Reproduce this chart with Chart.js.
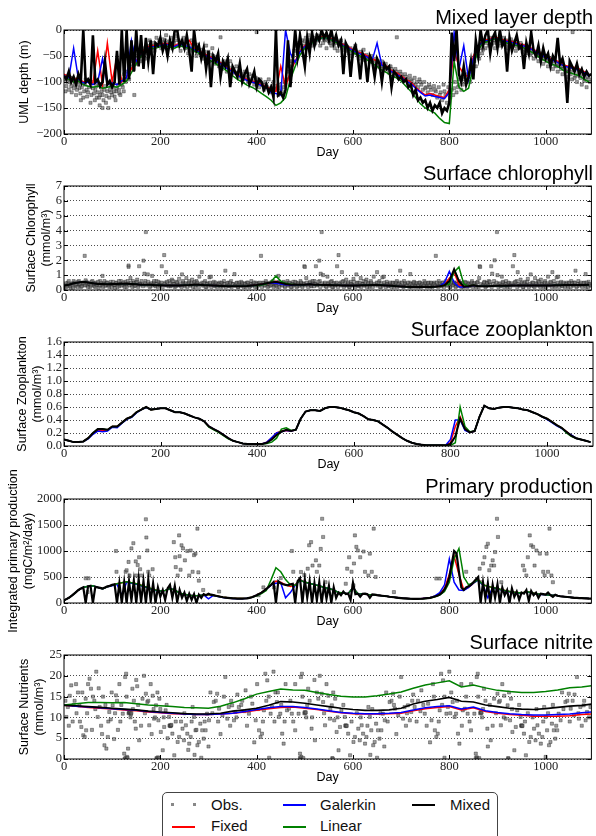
<!DOCTYPE html>
<html>
<head>
<meta charset="utf-8">
<script src="https://cdn.jsdelivr.net/npm/chart.js@4"></script>
<style>
  body { margin: 0; background: #fff; width: 596px; height: 836px; overflow: hidden; position: relative;
         font-family: "Liberation Sans", Arial, sans-serif; }
  canvas { position: absolute; left: 0; }
  #legend { position: absolute; left: 162px; top: 792px; width: 334px; height: 70px;
            border: 1px solid #444; border-radius: 5px; background: #fff; }
  #legend .ln { position: absolute; height: 1.5px; width: 23px; }
  #legend .mk { position: absolute; width: 3px; height: 3px; background: #888; }
  #legend .tx { position: absolute; font-size: 15px; line-height: 20px; color: #111; }
</style>
</head>
<body>
<canvas id="p0" width="596" height="170" style="top:0px"></canvas>
<canvas id="p1" width="596" height="170" style="top:156px"></canvas>
<canvas id="p2" width="596" height="170" style="top:312px"></canvas>
<canvas id="p3" width="596" height="170" style="top:469px"></canvas>
<canvas id="p4" width="596" height="170" style="top:625px"></canvas>

<div id="legend">
  <span class="mk" style="left:8px;top:10px"></span><span class="mk" style="left:30px;top:10px"></span>
  <span class="tx" style="left:48px;top:2px">Obs.</span>
  <span class="ln" style="left:9px;top:33px;background:#ff0000"></span>
  <span class="tx" style="left:48px;top:23px">Fixed</span>
  <span class="ln" style="left:120px;top:11px;background:#0000ff"></span>
  <span class="tx" style="left:157px;top:2px">Galerkin</span>
  <span class="ln" style="left:120px;top:33px;background:#008000"></span>
  <span class="tx" style="left:157px;top:23px">Linear</span>
  <span class="ln" style="left:249px;top:11px;background:#000"></span>
  <span class="tx" style="left:287px;top:2px">Mixed</span>
</div>

<script>
// ---- time axes ----
const day10 = [0,10,20,30,40,50,60,70,80,90,100,110,120,130,140,150,160,170,180,190,
  200,210,220,230,240,250,260,270,280,290,300,310,320,330,340,350,360,370,380,390,
  400,410,420,430,440,450,460,470,480,490,500,510,520,530,540,550,560,570,580,590,
  600,610,620,630,640,650,660,670,680,690,700,710,720,730,740,750,760,770,780,790,
  800,810,820,830,840,850,860,870,880,890,900,910,920,930,940,950,960,970,980,990,
  1000,1010,1020,1030,1040,1050,1060,1070,1080,1090];
const day5 = [0,5,10,15,20,25,30,35,40,45,50,55,60,65,70,75,80,85,90,95,
  100,105,110,115,120,125,130,135,140,145,150,155,160,165,170,175,180,185,190,195,
  200,205,210,215,220,225,230,235,240,245,250,255,260,265,270,275,280,285,290,295,
  300,305,310,315,320,325,330,335,340,345,350,355,360,365,370,375,380,385,390,395,
  400,405,410,415,420,425,430,435,440,445,450,455,460,465,470,475,480,485,490,495,
  500,505,510,515,520,525,530,535,540,545,550,555,560,565,570,575,580,585,590,595,
  600,605,610,615,620,625,630,635,640,645,650,655,660,665,670,675,680,685,690,695,
  700,705,710,715,720,725,730,735,740,745,750,755,760,765,770,775,780,785,790,795,
  800,805,810,815,820,825,830,835,840,845,850,855,860,865,870,875,880,885,890,895,
  900,905,910,915,920,925,930,935,940,945,950,955,960,965,970,975,980,985,990,995,
  1000,1005,1010,1015,1020,1025,1030,1035,1040,1045,1050,1055,1060,1065,1070,1075,1080,1085,1090,1095];
const dayNut = [0,25,50,75,100,125,150,175,200,225,250,275,300,325,350,375,400,425,450,475,
  500,525,550,575,600,625,650,675,700,725,750,775,800,825,850,875,900,925,950,975,
  1000,1025,1050,1075,1095];

// ---- mixed layer depth (m) ----
const mldFixed = [-85,-90,-95,-92,-100,-98,-102,-40,-105,-25,
  -100,-50,-100,-90,-75,-60,-45,-35,-30,-30,
  -28,-25,-28,-30,-25,-28,-20,-35,-40,-45,
  -50,-55,-60,-65,-72,-78,-85,-90,-95,-98,
  -100,-105,-108,-115,-118,-70,-110,-80,-60,-40,
  -30,-25,-20,-15,-12,-15,-18,-22,-28,-32,
  -38,-42,-45,-50,-55,-60,-65,-70,-78,-82,
  -88,-95,-100,-110,-118,-125,-122,-125,-128,-130,
  -115,-40,-70,-85,-90,-50,-30,-20,-18,-15,
  -15,-18,-20,-22,-25,-28,-30,-35,-40,-45,
  -50,-55,-58,-62,-68,-70,-72,-75,-80,-85];
const mldGalerkin = [-88,-92,-35,-95,-102,-100,-105,-100,-55,-105,
  -102,-105,-98,-92,-20,-62,-48,-38,-32,-32,
  -30,-27,-30,-32,-27,-30,-32,-38,-42,-48,
  -52,-57,-62,-68,-75,-80,-87,-92,-97,-100,
  -103,-107,-110,-120,-122,-125,0,-45,-62,-42,
  -32,-27,-22,-17,-14,-17,-20,-24,-30,-34,
  -40,-44,-48,-52,-58,-25,-68,-73,-80,-85,
  -90,-98,-103,-112,-120,-127,-125,-128,-130,-132,
  -120,-5,-75,-30,-95,-55,-32,-22,-20,-17,
  -17,-20,-22,-24,-27,-30,-32,-37,-42,-48,
  -52,-57,-60,-65,-70,-72,-75,-78,-82,-88];
const mldLinear = [-90,-95,-100,-98,-105,-108,-110,-108,-112,-110,
  -108,-110,-105,-98,-82,-65,-50,-40,-35,-35,
  -32,-30,-33,-35,-30,-33,-35,-40,-45,-50,
  -57,-62,-68,-73,-80,-88,-95,-100,-106,-110,
  -115,-122,-128,-135,-145,-140,-130,-95,-70,-48,
  -35,-28,-22,-17,-14,-17,-22,-26,-32,-37,
  -43,-48,-52,-58,-64,-70,-77,-82,-88,-92,
  -98,-108,-118,-130,-142,-150,-155,-160,-170,-178,
  -180,-60,-110,-118,-112,-70,-38,-25,-22,-18,
  -18,-22,-25,-27,-30,-33,-36,-42,-48,-55,
  -60,-65,-68,-73,-80,-82,-85,-88,-95,-100];
const mldMixed = [-88,-95,-80,-100,-90,-105,-85,-98,0,-100,-95,-105,-10,-100,-95,-108,-100,-60,-105,-98,
  -110,-100,-40,-105,0,-100,0,-95,-20,-80,0,-70,-10,-75,-15,-60,-20,-85,-25,-30,
  -15,-40,-25,-50,-20,-35,0,0,-30,-20,-35,-10,-40,-80,0,-40,-30,-55,-35,-75,
  -40,-110,-50,-60,-45,-90,-60,-70,-55,-110,-70,-80,-90,-65,-100,-85,-75,-105,-95,-80,
  -110,-95,-100,-115,-105,-120,-110,-130,0,-125,-120,-130,-115,-20,-110,-60,0,-50,-10,-40,
  -70,-15,-45,-5,-30,-10,-20,0,-15,-5,-20,0,-25,-10,-30,-20,-85,-25,-35,-90,
  -40,-30,-50,-95,-45,-55,-100,-50,-60,-90,-55,-65,-100,-65,-75,-70,-110,-80,-85,-95,
  -90,-100,-95,-110,-105,-125,-115,-135,-130,-140,-135,-150,-140,-155,-145,-150,-140,-160,-150,-155,
  -140,-5,-60,0,-85,-100,-70,-105,-90,-60,-95,-20,-50,0,-30,-10,0,-45,-15,-5,
  -35,0,-30,-20,-80,-15,-40,-25,-10,-35,-30,-75,-25,-45,-5,-40,-50,-30,-60,-35,
  -55,-45,-70,-50,-60,-15,-65,-55,-75,-140,-60,-70,-80,-65,-85,-75,-90,-80,-88,-85];
const mldObs = [[2,-95],[5,-108],[8,-88],[10,-115],[13,-100],[16,-120],[18,-92],[22,-105],[25,-125],[28,-98],
  [32,-112],[35,-135],[38,-102],[42,-118],[45,-95],[48,-128],[52,-110],[55,-140],[58,-100],[62,-122],
  [65,-115],[68,-130],[72,-105],[74,-145],[75,-125],[78,-118],[80,-150],[82,-135],[85,-108],[88,-127],
  [92,-150],[95,-115],[98,-120],[102,-110],[105,-128],[108,-118],[112,-105],[115,-122],[118,-95],[122,-110],
  [125,-85],[128,-100],[132,-80],[135,-95],[138,-70],[142,-60],[145,-75],[146,-125],[148,-50],[152,-65],
  [155,-45],[158,-60],[162,-35],[165,-40],[168,-55],[172,-30],[175,-45],[178,-20],[182,-35],[185,-25],
  [188,-40],[192,-15],[195,-30],[198,-20],[202,-35],[205,-18],[208,-25],[212,-10],[215,-30],[218,-22],
  [222,-15],[225,-35],[228,-25],[232,-12],[235,-30],[238,-20],[242,-40],[245,-28],[248,-15],[252,-35],
  [255,-25],[258,-45],[262,-30],[265,-20],[268,-40],[272,-35],[275,-50],[278,-28],[282,-45],[285,-38],
  [288,-55],[292,-42],[295,-30],[298,-50],[302,-60],[305,-48],[308,-35],[312,-58],[315,-65],[318,-52],
  [322,-70],[325,-14],[328,-75],[332,-60],[335,-68],[338,-80],[342,-72],[345,-60],[348,-85],[352,-75],
  [355,-82],[358,-70],[362,-90],[365,-78],[368,-85],[372,-95],[375,-80],[378,-90],[382,-100],[385,-85],
  [388,-95],[392,-88],[395,-105],[398,-92],[400,-4],[402,-100],[405,-110],[408,-95],[412,-105],[415,-115],
  [418,-100],[422,-110],[425,-95],[428,-120],[432,-108],[435,-100],[438,-115],[442,-112],[445,-125],[448,-105],
  [452,-118],[455,-110],[458,-100],[462,-95],[465,-80],[468,-70],[472,-60],[475,-50],[478,-40],[482,-30],
  [485,-45],[488,-25],[492,-35],[495,-20],[498,-30],[502,-15],[505,-25],[508,-10],[512,-20],[515,-30],
  [518,-15],[522,-25],[525,-10],[528,-20],[532,-30],[535,-15],[538,-25],[542,-20],[545,-35],[548,-15],
  [552,-25],[555,-30],[558,-20],[562,-35],[565,-25],[568,-40],[572,-30],[575,-20],[578,-35],[582,-28],
  [585,-40],[588,-32],[592,-45],[595,-35],[598,-50],[602,-40],[605,-30],[608,-45],[612,-55],[615,-42],
  [618,-50],[622,-38],[625,-58],[628,-48],[632,-55],[635,-62],[638,-50],[642,-60],[645,-68],[648,-55],
  [652,-65],[655,-72],[658,-60],[662,-70],[665,-78],[668,-65],[672,-75],[675,-82],[678,-70],[682,-80],
  [685,-88],[688,-75],[691,-14],[692,-85],[695,-92],[698,-80],[702,-90],[705,-98],[708,-85],[712,-95],
  [715,-100],[718,-88],[722,-98],[725,-105],[728,-92],[732,-100],[735,-110],[738,-95],[742,-105],[745,-115],
  [748,-100],[752,-110],[755,-120],[758,-105],[762,-115],[765,-125],[768,-108],[772,-118],[775,-130],[778,-110],
  [782,-120],[785,-135],[788,-105],[792,-125],[795,-140],[798,-110],[802,-130],[805,-115],[808,-125],[812,-100],
  [815,-120],[818,-110],[822,-95],[825,-115],[828,-105],[832,-90],[835,-100],[838,-85],[842,-95],[843,-100],
  [845,-75],[848,-85],[852,-60],[855,-70],[858,-45],[862,-55],[865,-35],[868,-45],[872,-25],[875,-35],
  [878,-20],[882,-30],[885,-15],[888,-28],[892,-20],[895,-35],[898,-25],[902,-18],[905,-30],[908,-22],
  [912,-15],[915,-28],[918,-20],[922,-35],[925,-25],[928,-18],[932,-30],[935,-22],[938,-40],[942,-28],
  [945,-35],[948,-25],[952,-42],[955,-30],[958,-38],[962,-45],[965,-32],[968,-48],[972,-38],[975,-55],
  [978,-42],[982,-50],[985,-60],[988,-45],[992,-55],[995,-65],[998,-50],[1002,-60],[1005,-70],[1008,-55],
  [1012,-65],[1015,-75],[1018,-60],[1022,-70],[1025,-80],[1028,-65],[1032,-75],[1035,-85],[1038,-70],[1042,-80],
  [1045,-90],[1048,-75],[1052,-85],[1055,-95],[1056,-4],[1058,-78],[1062,-88],[1065,-100],[1068,-82],[1072,-92],
  [1075,-105],[1078,-85],[1082,-95],[1085,-110],[1088,-90],[1092,-100],
  [3,-118],[7,-100],[12,-92],[15,-108],[20,-112],[24,-95],[27,-115],[30,-105],[34,-122],[37,-110],
  [40,-130],[44,-105],[47,-115],[50,-120],[54,-100],[57,-125],[60,-112],[64,-135],[67,-108],[70,-120],
  [73,-130],[77,-110],[80,-125],[84,-115],[87,-140],[90,-118],[94,-130],[97,-108],[100,-125],[104,-118],
  [107,-135],[110,-112],[114,-115],[117,-125],[120,-105],[124,-118],[127,-95],[150,-55],[160,-50],[170,-40],
  [180,-30],[190,-28],[200,-25],[210,-20],[220,-28],[230,-20],[240,-30],[250,-22],[260,-38],[270,-28],
  [280,-40],[290,-48],[300,-42],[310,-50],[320,-62],[330,-68],[340,-65],[350,-78],[360,-82],[370,-88],
  [380,-92],[390,-98],[400,-95],[410,-102],[420,-105],[430,-112],[440,-108],[450,-112],[460,-105],[500,-22],
  [510,-18],[520,-28],[530,-12],[540,-18],[550,-22],[560,-28],[570,-22],[580,-38],[590,-38],[600,-45],
  [610,-48],[620,-55],[630,-52],[640,-58],[650,-62],[660,-65],[670,-72],[680,-75],[690,-80],[700,-85],
  [710,-90],[720,-95],[730,-105],[740,-100],[750,-112],[760,-110],[770,-115],[780,-125],[790,-118],[800,-120],
  [810,-112],[820,-105],[830,-95],[840,-90],[850,-70],[860,-50],[870,-38],[880,-25],[890,-25],[900,-28],
  [910,-25],[920,-28],[930,-25],[940,-32],[950,-35],[960,-40],[970,-45],[980,-48],[990,-52],[1000,-55],
  [1010,-62],[1020,-68],[1030,-70],[1040,-75],[1050,-80],[1060,-92],[1070,-88],[1080,-98],[1090,-95]];

// ---- surface chlorophyll (mmol/m3) ----
const chlMixed = [.30,.35,.45,.50,.55,.50,.45,.40,.40,.38,
  .40,.40,.42,.42,.40,.38,.35,.35,.35,.32,
  .32,.30,.30,.30,.30,.32,.33,.35,.35,.33,
  .32,.30,.28,.27,.26,.25,.25,.26,.27,.30,
  .33,.38,.45,.50,.55,.48,.40,.36,.35,.35,
  .36,.38,.36,.35,.34,.33,.32,.32,.31,.30,
  .30,.31,.32,.32,.33,.33,.32,.30,.28,.26,
  .24,.22,.21,.20,.20,.20,.21,.22,.25,.32,
  .60,1.40,.60,.22,.25,.32,.25,.25,.26,.27,
  .28,.28,.29,.30,.30,.30,.31,.31,.30,.30,
  .30,.31,.32,.32,.33,.33,.33,.34,.34,.35];
const chlFixed = [.30,.35,.45,.50,.55,.50,.45,.40,.40,.38,
  .40,.40,.42,.42,.40,.38,.35,.35,.35,.32,
  .32,.30,.30,.30,.30,.32,.33,.35,.35,.33,
  .32,.30,.28,.27,.26,.25,.25,.26,.27,.30,
  .33,.37,.40,.48,.58,.45,.38,.35,.34,.34,
  .36,.38,.36,.35,.34,.33,.32,.32,.31,.30,
  .30,.31,.32,.32,.33,.33,.32,.30,.28,.26,
  .24,.22,.21,.20,.20,.20,.21,.22,.25,.32,
  .80,1.20,.35,.22,.25,.30,.25,.25,.26,.27,
  .28,.28,.29,.30,.30,.30,.31,.31,.30,.30,
  .30,.31,.32,.32,.33,.33,.33,.34,.34,.35];
const chlGalerkin = [.30,.35,.45,.50,.55,.50,.45,.40,.40,.38,
  .40,.40,.42,.42,.40,.38,.35,.35,.35,.32,
  .32,.30,.30,.30,.30,.32,.33,.35,.35,.33,
  .32,.30,.28,.27,.26,.25,.25,.26,.27,.30,
  .32,.36,.42,.48,.45,.40,.36,.34,.34,.34,
  .36,.38,.36,.35,.34,.33,.32,.32,.31,.30,
  .30,.31,.32,.32,.33,.33,.32,.30,.28,.26,
  .24,.22,.21,.20,.20,.20,.21,.22,.26,.50,
  1.25,.50,.20,.20,.24,.30,.25,.25,.26,.27,
  .28,.28,.29,.30,.30,.30,.31,.31,.30,.30,
  .30,.31,.32,.32,.33,.33,.33,.34,.34,.35];
const chlLinear = [.30,.35,.45,.50,.55,.50,.45,.40,.40,.38,
  .40,.40,.42,.42,.40,.38,.35,.35,.35,.32,
  .32,.30,.30,.30,.30,.32,.33,.35,.35,.33,
  .32,.30,.28,.27,.26,.25,.25,.26,.27,.30,
  .30,.33,.40,.55,.95,.60,.45,.38,.36,.35,
  .36,.38,.36,.35,.34,.33,.32,.32,.31,.30,
  .30,.31,.32,.32,.33,.33,.32,.30,.28,.26,
  .24,.22,.21,.20,.20,.20,.21,.22,.25,.32,
  .40,1.20,1.55,.40,.25,.32,.25,.25,.26,.27,
  .28,.28,.29,.30,.30,.30,.31,.31,.30,.30,
  .30,.31,.32,.32,.33,.33,.33,.34,.34,.35];
const chlObs = [[2,0.35],[5,0.2],[8,0.5],[11,0.3],[14,0.15],[17,0.45],[20,0.6],[23,0.25],[26,0.4],[29,0.55],
  [32,0.3],[35,0.2],[38,0.5],[43,2.3],[42,0.35],[45,0.65],[48,0.3],[51,0.45],[54,0.2],[57,0.55],
  [60,0.35],[63,0.25],[66,0.5],[69,0.4],[72,0.15],[75,0.6],[78,0.3],[80,0.95],[82,0.45],[85,0.25],
  [88,0.5],[91,0.35],[94,0.2],[97,0.55],[100,0.4],[103,0.3],[106,0.15],[109,0.5],[112,0.35],[115,0.25],
  [118,0.6],[121,0.4],[124,0.3],[127,0.55],[130,0.2],[133,0.45],[134,1.56],[134,1.65],[138,0.8],[140,0.35],
  [143,0.6],[146,0.25],[149,0.5],[152,0.7],[155,0.3],[156,1.6],[158,0.45],[163,0.35],[165,1.98],[167,1.1],
  [169,0.6],[170,3.9],[174,1.05],[177,0.4],[180,0.25],[183,0.95],[186,0.5],[189,0.3],[192,0.6],[195,0.2],
  [198,0.45],[201,0.35],[203,1.6],[208,2.35],[210,0.5],[212,1.2],[213,0.3],[218,0.6],[221,0.25],[224,0.7],
  [227,0.4],[230,0.2],[233,0.55],[236,0.35],[239,0.75],[242,0.3],[245,1.05],[248,0.5],[251,0.25],[254,0.8],
  [257,0.4],[260,0.6],[263,0.3],[266,0.7],[269,0.45],[272,0.2],[275,0.6],[278,0.35],[281,0.9],[286,1.2],
  [287,0.5],[290,0.3],[293,0.6],[296,0.2],[299,0.45],[302,0.85],[305,0.9],[308,0.35],[311,0.55],[314,0.25],
  [317,0.4],[320,0.3],[323,0.5],[326,0.2],[329,0.45],[332,0.6],[335,1.3],[338,0.3],[341,0.5],[344,0.25],
  [347,0.6],[350,0.4],[354,1.07],[356,0.3],[359,0.5],[362,0.2],[365,0.4],[368,0.55],[371,0.3],[374,0.45],
  [377,0.2],[380,0.5],[383,0.35],[386,0.25],[389,0.6],[392,0.4],[395,0.3],[398,0.5],[401,0.2],[404,0.45],
  [407,0.35],[409,2.3],[413,0.5],[416,0.3],[419,0.6],[422,0.4],[425,0.25],[428,0.5],[431,0.35],[434,0.6],
  [437,0.3],[440,0.45],[443,0.2],[445,0.95],[446,0.55],[452,0.35],[455,0.5],[458,0.25],[461,0.4],[464,0.6],
  [467,0.3],[470,0.45],[473,0.2],[476,0.55],[479,0.35],[482,0.5],[485,0.25],[488,0.4],[491,0.6],[494,0.3],
  [497,0.45],[499,1.6],[500,1.55],[503,0.8],[508,0.35],[511,0.55],[514,0.25],[517,0.5],[520,0.6],[523,1.6],
  [526,0.35],[530,1.98],[533,1.1],[531,0.6],[535,3.9],[538,1.0],[541,0.4],[544,0.25],[547,0.9],[550,0.5],
  [553,0.3],[556,0.6],[559,0.2],[562,0.45],[565,0.35],[567,1.6],[570,2.35],[574,0.5],[577,1.2],[580,0.6],
  [583,0.3],[586,0.7],[589,0.4],[592,0.2],[595,0.55],[598,0.35],[601,0.75],[604,0.3],[607,1.05],[610,0.5],
  [613,0.25],[616,0.8],[619,0.4],[622,0.6],[625,0.3],[628,0.7],[631,0.45],[634,0.2],[637,0.6],[640,0.35],
  [643,0.9],[650,1.2],[649,0.5],[652,0.3],[655,0.6],[658,0.2],[661,0.85],[664,0.9],[667,0.35],[670,0.55],
  [673,0.25],[676,0.4],[679,0.3],[682,0.5],[685,0.2],[688,0.45],[691,0.6],[694,0.3],[697,0.5],[698,1.3],
  [703,0.25],[706,0.6],[709,0.4],[712,0.3],[719,1.07],[718,0.5],[721,0.2],[724,0.4],[727,0.55],[730,0.3],
  [733,0.45],[736,0.2],[739,0.5],[742,0.35],[745,0.25],[748,0.6],[751,0.4],[754,0.3],[757,0.5],[760,0.2],
  [763,0.45],[766,0.35],[769,0.5],[772,2.3],[775,0.3],[778,0.6],[781,0.4],[784,0.25],[787,0.5],[790,0.35],
  [793,0.6],[796,0.3],[799,0.45],[802,0.2],[805,0.55],[808,0.35],[811,0.5],[814,0.25],[817,0.4],[820,0.6],
  [823,0.3],[826,0.45],[829,0.2],[832,0.55],[835,0.35],[838,0.5],[841,0.25],[844,0.4],[847,0.6],[850,0.3],
  [853,0.45],[856,0.2],[859,0.55],[862,0.8],[863,1.6],[864,1.55],[870,0.35],[873,0.55],[876,0.25],[879,0.5],
  [882,0.6],[887,1.6],[885,0.35],[894,2.0],[889,1.1],[893,0.6],[899,3.9],[900,1.0],[903,0.4],[906,0.25],
  [909,0.9],[912,0.5],[915,0.3],[918,0.6],[921,0.2],[924,0.45],[927,0.35],[932,1.6],[935,2.35],[936,0.5],
  [942,1.2],[940,0.6],[945,0.3],[948,0.7],[951,0.4],[954,0.2],[957,0.55],[960,0.35],[963,0.75],[966,0.3],
  [969,1.05],[972,0.5],[975,0.25],[978,0.8],[981,0.4],[984,0.6],[987,0.3],[990,0.7],[993,0.45],[996,0.2],
  [999,0.6],[1002,0.35],[1005,0.9],[1014,1.2],[1011,0.5],[1016,0.3],[1017,0.6],[1020,0.2],[1023,0.85],[1026,0.9],
  [1029,0.35],[1032,0.55],[1035,0.25],[1038,0.4],[1041,0.3],[1044,0.5],[1047,0.2],[1050,0.45],[1053,0.6],[1056,0.3],
  [1059,0.5],[1062,1.3],[1065,0.25],[1068,0.6],[1071,0.4],[1074,0.3],[1083,1.07],[1080,0.5],[1084,0.2],[1086,0.4],
  [1089,0.55],[1092,0.3],
  [1,0.1],[4,0.45],[7,0.3],[10,0.6],[13,0.25],[16,0.4],[19,0.15],[22,0.5],[25,0.35],[28,0.2],
  [31,0.6],[34,0.4],[37,0.25],[40,0.45],[44,0.3],[47,0.55],[50,0.2],[53,0.4],[56,0.3],[59,0.6],
  [62,0.45],[65,0.2],[68,0.35],[71,0.55],[74,0.3],[77,0.45],[81,0.2],[84,0.6],[87,0.35],[90,0.5],
  [93,0.3],[96,0.4],[99,0.2],[102,0.55],[105,0.35],[108,0.45],[111,0.2],[114,0.6],[117,0.4],[120,0.3],
  [123,0.5],[126,0.2],[129,0.4],[132,0.6],[136,0.3],[139,0.5],[142,0.2],[145,0.45],[148,0.3],[151,0.55],
  [154,0.2],[157,0.4],[161,0.6],[164,0.25],[168,0.45],[171,0.3],[175,0.55],[178,0.2],[181,0.45],[184,0.35],
  [187,0.6],[190,0.25],[193,0.4],[196,0.55],[199,0.3],[202,0.5],[205,0.2],[209,0.4],[214,0.55],[217,0.25],
  [220,0.45],[223,0.3],[226,0.6],[229,0.4],[232,0.25],[235,0.5],[238,0.3],[241,0.45],[244,0.2],[247,0.6],
  [250,0.35],[253,0.45],[256,0.2],[259,0.5],[262,0.3],[265,0.45],[268,0.2],[271,0.55],[274,0.35],[277,0.5],
  [280,0.2],[283,0.4],[288,0.3],[291,0.5],[294,0.2],[297,0.4],[300,0.3],[303,0.5],[306,0.2],[309,0.45],
  [312,0.3],[315,0.5],[318,0.2],[321,0.4],[324,0.3],[327,0.5],[330,0.25],[333,0.4],[336,0.2],[339,0.45],
  [342,0.3],[345,0.5],[348,0.2],[351,0.4],[355,0.3],[358,0.45],[361,0.2],[364,0.5],[367,0.3],[370,0.45],
  [373,0.2],[376,0.4],[379,0.3],[382,0.5],[385,0.2],[388,0.4],[391,0.3],[394,0.5],[397,0.2],[400,0.4],
  [403,0.3],[406,0.5],[411,0.2],[414,0.45],[417,0.3],[420,0.5],[423,0.2],[426,0.4],[429,0.3],[432,0.55],
  [435,0.2],[438,0.45],[441,0.3],[444,0.5],[447,0.2],[450,0.4],[453,0.3],[456,0.55],[459,0.2],[462,0.45],
  [465,0.3],[468,0.5],[471,0.2],[474,0.4],[477,0.3],[480,0.55],[483,0.2],[486,0.45],[489,0.3],[492,0.5],
  [495,0.2],[498,0.4],[501,0.3],[504,0.5],[507,0.2],[510,0.45],[513,0.3],[516,0.6],[519,0.25],[522,0.4],
  [525,0.3],[528,0.55],[532,0.2],[536,0.45],[539,0.3],[542,0.5],[545,0.2],[548,0.4],[551,0.3],[554,0.55],
  [557,0.2],[560,0.45],[563,0.3],[566,0.5],[569,0.2],[572,0.4],[575,0.3],[578,0.55],[581,0.2],[584,0.45],
  [587,0.3],[590,0.5],[593,0.2],[596,0.4],[599,0.3],[602,0.55],[605,0.2],[608,0.45],[611,0.3],[614,0.5],
  [617,0.2],[620,0.4],[623,0.3],[626,0.55],[629,0.2],[632,0.45],[635,0.3],[638,0.5],[641,0.2],[644,0.4],
  [647,0.3],[653,0.5],[656,0.2],[659,0.45],[662,0.3],[665,0.5],[668,0.2],[671,0.4],[674,0.3],[677,0.5],
  [680,0.2],[683,0.45],[686,0.3],[689,0.5],[692,0.2],[695,0.4],[699,0.3],[702,0.5],[705,0.2],[708,0.45],
  [711,0.3],[714,0.5],[717,0.2],[720,0.4],[723,0.3],[726,0.5],[729,0.2],[732,0.45],[735,0.3],[738,0.5],
  [741,0.2],[744,0.4],[747,0.3],[750,0.5],[753,0.2],[756,0.45],[759,0.3],[762,0.5],[765,0.2],[768,0.4],
  [771,0.3],[774,0.5],[777,0.2],[780,0.45],[783,0.3],[786,0.5],[789,0.2],[792,0.4],[795,0.3],[798,0.5],
  [801,0.2],[804,0.45],[807,0.3],[810,0.5],[813,0.2],[816,0.4],[819,0.3],[822,0.5],[825,0.2],[828,0.45],
  [831,0.3],[834,0.5],[837,0.2],[840,0.4],[843,0.3],[846,0.5],[849,0.2],[852,0.45],[855,0.3],[858,0.5],
  [861,0.2],[866,0.4],[869,0.3],[872,0.5],[875,0.2],[878,0.45],[881,0.3],[884,0.55],[888,0.2],[891,0.4],
  [895,0.3],[898,0.5],[902,0.2],[905,0.45],[908,0.3],[911,0.55],[914,0.2],[917,0.4],[920,0.3],[923,0.5],
  [926,0.2],[929,0.45],[933,0.3],[937,0.55],[941,0.2],[944,0.4],[947,0.3],[950,0.5],[953,0.2],[956,0.45],
  [959,0.3],[962,0.55],[965,0.2],[968,0.4],[971,0.3],[974,0.5],[977,0.2],[980,0.45],[983,0.3],[986,0.55],
  [989,0.2],[992,0.4],[995,0.3],[998,0.5],[1001,0.2],[1004,0.45],[1007,0.3],[1010,0.55],[1013,0.2],[1019,0.4],
  [1022,0.3],[1025,0.5],[1028,0.2],[1031,0.45],[1034,0.3],[1037,0.5],[1040,0.2],[1043,0.4],[1046,0.3],[1049,0.5],
  [1052,0.2],[1055,0.45],[1058,0.3],[1061,0.5],[1064,0.2],[1067,0.4],[1070,0.3],[1073,0.5],[1076,0.2],[1079,0.45],
  [1082,0.3],[1085,0.5],[1088,0.2],[1091,0.4],[1094,0.3]];

// ---- surface zooplankton (mmol/m3) ----
const zooMixed = [.10,.08,.06,.06,.07,.12,.20,.26,.26,.25,
  .30,.30,.36,.42,.45,.52,.56,.60,.56,.57,
  .58,.58,.55,.52,.52,.50,.47,.44,.42,.38,
  .30,.26,.22,.17,.12,.08,.06,.04,.03,.03,
  .03,.03,.05,.10,.17,.22,.25,.23,.25,.42,
  .53,.55,.55,.54,.58,.60,.60,.59,.57,.55,
  .52,.50,.46,.41,.40,.38,.33,.28,.22,.17,
  .12,.08,.05,.03,.02,.01,.01,.01,.01,.01,
  .03,.15,.42,.26,.21,.23,.45,.62,.58,.57,
  .59,.60,.60,.59,.58,.56,.55,.52,.49,.45,
  .42,.37,.32,.28,.22,.16,.12,.10,.08,.06];
const zooFixed = [.10,.08,.06,.06,.07,.12,.19,.24,.24,.25,
  .30,.30,.36,.42,.45,.52,.56,.60,.56,.57,
  .58,.58,.55,.52,.52,.50,.47,.44,.42,.38,
  .30,.26,.22,.17,.12,.08,.06,.04,.03,.03,
  .03,.03,.06,.12,.20,.23,.24,.23,.25,.42,
  .53,.55,.55,.54,.58,.60,.60,.59,.57,.55,
  .52,.50,.46,.41,.40,.38,.33,.28,.22,.17,
  .12,.08,.05,.03,.02,.01,.01,.01,.01,.01,
  .05,.30,.45,.28,.21,.23,.45,.62,.58,.57,
  .59,.60,.60,.59,.58,.56,.55,.52,.49,.45,
  .42,.37,.32,.28,.22,.16,.12,.10,.08,.06];
const zooGalerkin = [.10,.08,.06,.06,.07,.11,.18,.23,.22,.23,
  .29,.28,.35,.41,.44,.51,.56,.59,.56,.57,
  .58,.58,.55,.52,.52,.50,.47,.44,.42,.38,
  .30,.26,.22,.17,.12,.08,.06,.04,.03,.03,
  .03,.03,.06,.13,.20,.22,.24,.23,.25,.42,
  .53,.55,.55,.54,.58,.60,.60,.59,.57,.55,
  .52,.50,.46,.41,.40,.38,.33,.28,.22,.17,
  .12,.08,.05,.03,.02,.01,.01,.01,.01,.01,
  .10,.40,.40,.24,.21,.23,.45,.62,.58,.57,
  .59,.60,.60,.59,.58,.56,.55,.52,.49,.45,
  .41,.36,.31,.27,.21,.17,.12,.10,.08,.06];
const zooLinear = [.10,.08,.06,.06,.07,.12,.20,.26,.26,.25,
  .30,.30,.36,.42,.45,.52,.56,.60,.56,.57,
  .58,.58,.55,.52,.52,.50,.47,.44,.42,.38,
  .29,.25,.21,.16,.11,.08,.06,.04,.03,.03,
  .03,.03,.04,.06,.12,.26,.28,.24,.25,.42,
  .53,.55,.55,.54,.58,.60,.60,.59,.57,.55,
  .52,.50,.46,.41,.40,.38,.33,.28,.22,.17,
  .12,.08,.05,.03,.02,.01,.01,.01,.01,.01,
  .01,.05,.60,.30,.22,.23,.45,.62,.58,.57,
  .59,.60,.60,.59,.58,.56,.55,.52,.49,.45,
  .42,.37,.32,.28,.20,.15,.12,.10,.08,.06];

// ---- integrated primary production (mgC/m2/day) ----
const ppFixed = [50,100,170,250,300,320,330,300,270,310,
  340,370,390,410,390,370,340,310,280,250,
  230,240,280,250,190,170,150,140,145,155,
  165,150,130,110,100,90,85,85,90,110,
  150,200,270,350,420,400,350,320,350,450,
  400,380,350,330,300,280,250,200,190,180,
  300,180,175,165,160,150,140,130,115,105,
  95,88,82,80,82,90,100,130,170,280,
  550,900,550,250,300,380,450,350,320,300,
  280,250,230,210,200,190,220,200,180,170,
  160,150,150,130,120,110,100,95,90,85];
const ppGalerkin = [50,100,170,250,300,320,330,300,270,310,
  330,360,150,400,380,360,330,300,270,240,
  230,240,280,250,190,170,150,140,145,155,
  80,145,125,108,98,88,84,84,89,108,
  148,195,265,345,380,390,100,200,340,440,
  400,380,350,330,300,280,250,200,190,180,
  300,180,175,165,160,150,140,130,115,105,
  95,88,82,80,82,90,100,135,200,350,
  850,400,250,240,300,380,440,340,100,290,
  270,245,225,205,195,185,215,195,175,165,
  160,150,150,130,120,110,100,95,90,85];
const ppLinear = [50,100,170,250,300,320,330,300,270,310,
  340,370,390,410,390,370,340,310,280,250,
  230,240,280,250,190,170,150,140,145,155,
  165,150,130,110,100,90,85,85,90,110,
  140,180,240,450,680,600,450,350,340,440,
  400,380,350,330,300,280,250,200,190,180,
  300,180,175,165,160,150,140,130,115,105,
  92,85,80,78,80,85,95,120,150,220,
  400,850,1050,500,350,390,450,350,320,300,
  280,250,230,210,200,190,220,200,180,170,
  160,150,150,130,120,110,100,95,90,85];
const ppMixed = [50,75,100,130,170,210,250,280,300,0,320,330,0,310,300,290,280,300,320,330,
  350,360,0,380,0,400,0,420,50,430,0,460,20,420,0,450,40,380,0,300,
  120,250,60,280,350,100,330,20,250,100,200,40,180,60,170,0,160,100,170,150,
  180,160,150,140,130,120,110,105,100,95,90,88,85,85,85,87,90,100,110,130,
  150,175,200,235,270,310,350,400,0,420,380,360,350,340,360,370,0,420,480,0,
  450,100,420,0,380,50,400,0,350,80,330,0,300,100,200,150,220,170,180,60,
  390,170,180,120,175,180,170,100,165,160,150,145,140,135,130,120,115,110,105,100,
  95,90,88,85,82,80,80,80,82,85,90,95,100,110,125,140,160,200,260,350,
  500,750,1000,950,600,300,250,300,320,350,400,450,500,0,400,80,380,0,350,100,
  360,0,300,150,250,0,280,120,220,60,200,180,250,40,230,150,200,100,180,170,
  160,200,150,120,160,140,130,125,120,115,110,105,100,98,95,92,90,88,85,85];
const ppObs = [[45,475],[51,475],[49,210],[108,1000],[109,600],[128,600],[130,630],[134,790],[136,530],[140,1050],
  [144,1150],[149,800],[150,530],[153,730],[156,880],[158,650],[160,530],[170,1610],[171,1260],[173,1010],
  [175,600],[177,530],[184,650],[228,1170],[231,880],[232,690],[236,530],[239,1300],[240,900],[242,640],
  [244,1110],[247,1050],[251,820],[256,1000],[260,530],[263,1010],[267,600],[270,920],[273,950],[277,1430],
  [279,590],[280,430],[289,250],[322,220],[404,150],[414,300],[436,300],[450,480],[473,1000],[476,600],
  [492,596],[499,535],[506,660],[509,1110],[513,1170],[516,720],[523,820],[525,600],[530,720],[533,1040],
  [536,1620],[538,1270],[543,400],[546,240],[585,370],[588,660],[592,880],[597,600],[601,340],[602,760],
  [604,1300],[607,1080],[610,1010],[615,880],[622,990],[625,600],[632,530],[635,950],[639,600],[643,1430],
  [647,500],[685,210],[773,470],[780,470],[835,600],[863,660],[866,400],[870,760],[873,880],[877,1080],
  [880,1140],[883,630],[887,720],[890,820],[893,720],[895,980],[899,1620],[901,1270],[908,400],[953,720],
  [956,630],[960,530],[963,880],[967,1300],[970,1110],[974,1080],[977,720],[981,1010],[988,950],[995,600],
  [998,530],[1002,950],[1005,600],[1008,1430],[1012,530],[1015,400],[1050,210]];

// ---- surface nutrients (mmol/m3) ----
const nutFixed = [12.9,12.7,12.4,12.2,12.0,11.8,11.6,11.3,11.1,10.9,10.8,10.7,10.7,10.8,11.0,11.3,11.7,12.1,12.4,12.5,
  12.2,11.9,11.5,11.1,10.9,10.8,10.8,10.9,11.0,11.6,12.1,12.4,12.6,11.8,12.3,11.4,11.0,10.7,10.5,10.3,
  10.3,10.3,10.4,10.7,10.8];
const nutGalerkin = [13.0,12.7,12.5,12.3,12.1,11.9,11.7,11.4,11.2,11.0,10.8,10.7,10.7,10.8,11.0,11.4,11.9,12.3,12.6,12.6,
  12.4,12.0,11.6,11.2,11.0,10.9,10.9,11.0,11.2,11.8,12.3,12.6,12.8,12.0,12.5,11.6,11.2,10.9,10.7,10.6,
  10.6,10.7,10.8,11.1,11.3];
const nutLinear = [13.0,13.3,13.6,13.6,13.5,13.6,13.3,13.0,12.8,12.6,12.4,12.3,12.2,12.7,13.5,14.5,15.6,16.2,16.8,16.6,
  16.5,16.0,15.5,15.1,14.9,14.9,15.2,15.6,16.1,17.0,17.8,18.3,18.8,17.3,17.8,17.1,16.5,16.2,16.0,16.0,
  16.2,16.6,17.1,17.3,17.6];
const nutMixed = [12.9,12.8,12.6,12.4,12.2,12.0,11.8,11.5,11.3,11.1,10.9,10.8,10.8,11.0,11.5,11.8,12.2,12.9,13.8,13.7,
  13.4,13.0,12.6,12.2,11.9,11.7,11.7,11.8,12.2,13.2,13.9,14.3,14.8,13.9,13.7,13.0,12.6,12.2,12.0,11.9,
  12.1,12.4,12.7,12.9,13.2];
const nutObs = [[5,10.1],[8,12.5],[12,15.2],[15,17.7],[18,9],[22,14],[26,11],[29,16],[32,12.9],[36,7.7],
  [40,5.7],[43,5.3],[45,14.5],[46,6.9],[50,18],[53,19.3],[56,16.9],[60,15],[63,14],[67,21],
  [70,10.1],[74,12.5],[77,8],[81,15],[84,3.3],[88,2.5],[91,5.3],[94,11.3],[97,9.5],[101,12.9],
  [104,4.8],[108,15.3],[112,7],[115,18],[119,13],[122,10.9],[125,1.3],[126,0.1],[127,19.7],[128,0.3],
  [129,20.5],[130,15],[131,0.5],[132,0.2],[133,2.5],[134,11],[135,11.3],[136,11],[137,11.2],[138,10],
  [139,10.8],[140,11.1],[142,16.9],[145,14],[149,7.3],[150,19],[152,17.5],[156,4.5],[163,14.5],[166,20],
  [170,15.7],[173,13.7],[177,8.1],[180,18],[184,15.2],[186,12],[187,9.7],[191,12.9],[192,0.2],[193,0.1],
  [194,16],[195,0.4],[196,9.3],[197,0.2],[198,14.5],[201,6.5],[205,2.1],[208,7.7],[211,11.7],[213,13],
  [218,10.1],[219,8],[220,8.1],[221,7.9],[222,8],[223,8.2],[225,6.1],[229,0.9],[236,4.1],[239,5.3],
  [243,9],[246,7.3],[249,4.5],[253,8.1],[256,6.1],[258,2.2],[260,3.7],[263,5.3],[267,12.5],[270,10.1],
  [271,1],[273,6.9],[277,3.3],[280,4.1],[283,8.5],[285,0.3],[287,6.9],[290,4.9],[294,6.9],[297,10.9],
  [300,3],[301,9.3],[304,16],[311,13.7],[315,14],[318,15.7],[322,12.1],[325,6],[329,10.5],[335,19.7],
  [339,9.7],[342,12.5],[345,8],[349,12.9],[353,9.3],[356,11.3],[360,15.5],[363,12.5],[370,14],[375,11.5],
  [377,16.5],[384,10.9],[391,13.3],[395,4],[398,9.3],[401,18],[405,6.9],[408,5.3],[411,6.1],[415,11.7],
  [418,20.5],[422,18.9],[425,15],[426,0.3],[429,10.9],[432,12.5],[435,21],[439,16],[442,13.7],[446,10.1],
  [449,10.9],[453,6.1],[456,3.7],[460,18],[463,11.7],[467,12.1],[473,10.9],[480,6.9],
  [480,18],[487,10.9],[490,1.3],[490,0.3],[491,0.1],[492,19.7],[493,0.5],[494,20.5],[495,15],[497,0.2],
  [499,11],[500,11.3],[501,11],[502,11.2],[503,10],[507,16.9],[510,14],[514,7.3],[520,19],[521,4.5],
  [528,14.5],[531,20],[535,15.7],[538,13.7],[542,8.1],[545,18],[549,15.2],[552,9.7],[556,12.9],[557,0.2],
  [558,0.1],[559,16],[561,9.3],[563,14.5],[566,6.5],[570,2.1],[573,7.7],[576,11.7],[583,10.1],[584,8],
  [585,8.1],[586,7.9],[587,8],[590,6.1],[594,0.9],[601,4.1],[604,5.3],[611,7.3],[614,4.5],[618,8.1],
  [621,6.1],[625,3.7],[628,5.3],[632,12.5],[635,10.1],[636,1],[638,6.9],[642,3.3],[645,4.1],[648,8.5],
  [650,0.3],[652,6.9],[655,4.9],[659,6.9],[662,10.9],[665,3],[666,9.3],[669,16],[676,13.7],[680,14],
  [683,15.7],[687,12.1],[690,6],[694,10.5],[700,19.7],[704,9.7],[707,12.5],[710,8],[714,12.9],[718,9.3],
  [721,11.3],[725,15.5],[728,12.5],[735,14],[740,11.5],[742,16.5],[749,10.9],[756,13.3],[760,4],[763,9.3],
  [766,18],[770,6.9],[773,5.3],[776,6.1],[780,11.7],[783,20.5],[787,18.9],[790,15],[790,0.3],[794,10.9],
  [797,12.5],[800,21],[804,16],[807,13.7],[811,10.1],[814,10.9],[818,6.1],[821,3.7],[825,18],[828,11.7],
  [832,12.1],[838,10.9],[845,6.9],[845,18],[852,10.9],[855,1.3],[855,0.2],[857,19.7],[857,0.4],[858,0.1],
  [859,20.5],[860,15],[862,0.2],[864,11],[865,11.3],[866,11],[867,11.2],[868,10],[872,16.9],[875,14],
  [879,7.3],[880,3],[886,4.5],[893,14.5],[900,15.7],[903,13.7],[907,8.1],[910,18],[914,15.2],[917,9.7],
  [921,12.9],[922,0.2],[923,0.1],[924,16],[926,9.3],[928,14.5],[931,6.5],[935,2.1],[938,7.7],[941,11.7],
  [948,10.1],[949,8],[950,8.1],[951,7.9],[952,8],[955,6.1],[959,0.9],[966,4.1],[969,5.3],[976,7.3],
  [979,4.5],[983,8.1],[986,6.1],[990,3.7],[993,5.3],[997,12.5],[1000,10.1],[1000,0.5],[1003,6.9],[1007,3.3],
  [1010,4.1],[1013,8.5],[1017,6.9],[1020,4.9],[1024,6.9],[1027,10.9],[1031,9.3],[1034,16],[1041,13.7],[1045,14],
  [1048,15.7],[1052,12.1],[1059,10.5],[1060,15.5],[1065,19.7],[1069,9.7],[1072,12.5],[1079,12.9],[1083,9.3],[1086,11.3],
  [1093,12.5],
  [3,14],[10,8],[20,13],[25,18],[33,9],[38,16],[48,11],[58,7],[65,12],[72,17],
  [79,6],[86,13],[92,9],[99,16],[106,11],[110,14],[117,9],[143,12],[147,9],[154,13],
  [160,8],[168,11],[175,14],[182,6],[189,10],[200,12],[207,10],[215,5],[232,9],[250,11],
  [265,9],[275,7],[292,9],[308,11],[320,9],[332,15],[347,14],[358,10],[368,13],[380,8],
  [388,15],[403,12],[413,9],[420,14],[437,9],[444,16],[451,13],[458,9],[470,14],[476,9],
  [505,13],[515,10],[525,16],[540,11],[553,12],[568,10],[580,13],[597,9],[608,11],[616,10],
  [630,8],[640,12],[657,11],[672,9],[685,13],[697,15],[712,11],[723,14],[732,9],[746,13],
  [753,8],[768,15],[778,9],[785,13],[802,11],[816,14],[826,8],[835,15],[842,9],[870,12],
  [884,13],[890,8],[897,11],[905,14],[913,10],[930,12],[945,13],[957,9],[963,11],[973,10],
  [981,12],[995,9],[1005,11],[1015,13],[1022,8],[1037,12],[1050,9],[1056,14],[1068,11],[1075,8],
  [1080,14],[1090,10]];

const SANS = '"Liberation Sans", Arial, sans-serif';
const SERIF = '"Liberation Serif", "Times New Roman", serif';

const pts = (xs, ys) => xs.map((x, i) => ({ x: x, y: ys[i] }));

// black frame and inward tick marks on all four sides
const framePlugin = {
  id: 'frame',
  afterDraw(chart) {
    const { ctx, chartArea: a, scales: { x, y } } = chart;
    ctx.save();
    ctx.strokeStyle = '#000';
    ctx.lineWidth = 1;
    ctx.strokeRect(a.left, a.top, a.right - a.left, a.bottom - a.top);
    ctx.beginPath();
    x.ticks.forEach(t => {
      const px = Math.round(x.getPixelForValue(t.value)) + 0.5;
      ctx.moveTo(px, a.bottom); ctx.lineTo(px, a.bottom - 4);
      ctx.moveTo(px, a.top); ctx.lineTo(px, a.top + 4);
    });
    y.ticks.forEach(t => {
      const py = Math.round(y.getPixelForValue(t.value)) + 0.5;
      ctx.moveTo(a.left, py); ctx.lineTo(a.left + 4, py);
      ctx.moveTo(a.right, py); ctx.lineTo(a.right - 4, py);
    });
    ctx.stroke();
    ctx.restore();
  }
};

const panels = [
  { id: 'p0', title: 'Mixed layer depth', ylabel: 'UML depth (m)', labelPad: 17.5, mixedWidth: 2.6,
    min: -200, max: 0, step: 50, fmt: v => (v < 0 ? '\u2212' + (-v) : String(v)),
    fixed: [day10, mldFixed], galerkin: [day10, mldGalerkin], linear: [day10, mldLinear], mixed: [day5, mldMixed], obs: mldObs },
  { id: 'p1', title: 'Surface chlorophyll', ylabel: ['Surface Chlorophyll', '(mmol/m\u00b3)'], labelPad: 24, mixedWidth: 2,
    min: 0, max: 7, step: 1, fmt: v => String(v),
    fixed: [day10, chlFixed], galerkin: [day10, chlGalerkin], linear: [day10, chlLinear], mixed: [day10, chlMixed], obs: chlObs },
  { id: 'p2', title: 'Surface zooplankton', ylabel: ['Surface Zooplankton', '(mmol/m\u00b3)'], labelPad: 15.5, mixedWidth: 2,
    min: 0, max: 1.6, step: 0.2, fmt: v => v.toFixed(1),
    fixed: [day10, zooFixed], galerkin: [day10, zooGalerkin], linear: [day10, zooLinear], mixed: [day10, zooMixed], obs: null },
  { id: 'p3', title: 'Primary production', ylabel: ['Integrated primary production', '(mgC/m\u00b2/day)'], labelPad: 6.5, mixedWidth: 2.2,
    min: 0, max: 2000, step: 500, fmt: v => String(v),
    fixed: [day10, ppFixed], galerkin: [day10, ppGalerkin], linear: [day10, ppLinear], mixed: [day5, ppMixed], obs: ppObs },
  { id: 'p4', title: 'Surface nitrite', ylabel: ['Surface Nutrients', '(mmol/m\u00b3)'], labelPad: 17.5, mixedWidth: 1.6,
    min: 0, max: 25, step: 5, fmt: v => String(v),
    fixed: [dayNut, nutFixed], galerkin: [dayNut, nutGalerkin], linear: [dayNut, nutLinear], mixed: [dayNut, nutMixed], obs: nutObs }
];

function makePanel(p) {
  const line = { showLine: true, pointRadius: 0, fill: false, tension: 0 };
  const datasets = [
    Object.assign({ label: 'Mixed', data: pts(p.mixed[0], p.mixed[1]), borderColor: '#000', borderWidth: p.mixedWidth, order: 0 }, line),
    Object.assign({ label: 'Linear', data: pts(p.linear[0], p.linear[1]), borderColor: '#008000', borderWidth: 1.5, order: 1 }, line),
    Object.assign({ label: 'Galerkin', data: pts(p.galerkin[0], p.galerkin[1]), borderColor: '#0000ff', borderWidth: 1.5, order: 2 }, line),
    Object.assign({ label: 'Fixed', data: pts(p.fixed[0], p.fixed[1]), borderColor: '#ff0000', borderWidth: 1.5, order: 3 }, line)
  ];
  if (p.obs) {
    datasets.push({
      label: 'Obs.', data: p.obs.map(o => ({ x: o[0], y: o[1] })), showLine: false,
      pointStyle: 'rect', pointRadius: 2.2, backgroundColor: 'rgba(105,105,105,0.65)',
      borderColor: 'rgba(20,20,20,0.6)', borderWidth: 0.6, order: 4
    });
  }

  new Chart(document.getElementById(p.id), {
    type: 'scatter',
    data: { datasets: datasets },
    plugins: [framePlugin],
    options: {
      responsive: false,
      animation: false,
      devicePixelRatio: 1,
      layout: { padding: { left: 0, right: 3, top: 0, bottom: 0 } },
      plugins: {
        legend: { display: false },
        tooltip: { enabled: false },
        title: {
          display: true, text: p.title, align: 'end', color: '#000',
          font: { family: SANS, size: 20, weight: 'normal' }, padding: { top: 6, bottom: 0 }
        }
      },
      scales: {
        x: {
          type: 'linear', min: 0, max: 1095,
          afterFit: s => { s.height = 36; },
          ticks: { stepSize: 200, includeBounds: false, autoSkip: false, maxRotation: 0, padding: 0,
                   color: '#222', font: { family: SERIF, size: 12.5 }, callback: v => String(v) },
          grid: { display: false, drawTicks: false },
          border: { display: false },
          title: { display: true, text: 'Day', color: '#000', font: { family: SANS, size: 12.5 },
                   padding: { top: 0, bottom: 10 } }
        },
        y: {
          type: 'linear', min: p.min, max: p.max,
          afterFit: s => { s.width = 64; },
          ticks: { stepSize: p.step, autoSkip: false, padding: 2, color: '#222',
                   font: { family: SERIF, size: 12.5 }, callback: p.fmt },
          grid: { color: '#000', lineWidth: 0.7, drawTicks: false },
          border: { display: false, dash: [1, 2] },
          title: { display: true, text: p.ylabel, color: '#000', font: { family: SANS, size: 12.5 },
                   padding: { top: p.labelPad, bottom: 0 } }
        }
      }
    }
  });
}

panels.forEach(makePanel);
</script>
</body>
</html>
